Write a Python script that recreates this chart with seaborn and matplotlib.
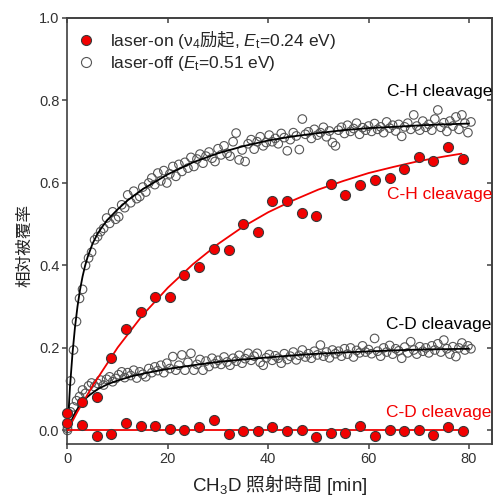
import numpy as np
import pandas as pd
import seaborn as sns
import matplotlib.pyplot as plt
from matplotlib.lines import Line2D
from matplotlib.ticker import FormatStrFormatter

##
# data

# laser-off (open circles), one point every 0.6 min
off_time = np.arange(0, 80.5, 0.6)
off_ch = [0.005, 0.120, 0.195, 0.264, 0.320, 0.342, 0.400, 0.418, 0.432, 0.462,
          0.470, 0.482, 0.490, 0.515, 0.502, 0.530, 0.512, 0.518, 0.547, 0.540,
          0.571, 0.552, 0.580, 0.562, 0.567, 0.590, 0.578, 0.600, 0.612, 0.596,
          0.624, 0.605, 0.630, 0.600, 0.622, 0.640, 0.616, 0.645, 0.628, 0.650,
          0.636, 0.662, 0.640, 0.658, 0.670, 0.648, 0.665, 0.675, 0.660, 0.652,
          0.683, 0.668, 0.690, 0.672, 0.665, 0.700, 0.721, 0.656, 0.680, 0.652,
          0.695, 0.705, 0.682, 0.700, 0.712, 0.690, 0.698, 0.716, 0.700, 0.708,
          0.695, 0.720, 0.710, 0.678, 0.705, 0.722, 0.714, 0.681, 0.755, 0.718,
          0.724, 0.708, 0.730, 0.716, 0.722, 0.735, 0.712, 0.726, 0.698, 0.690,
          0.728, 0.735, 0.720, 0.740, 0.725, 0.732, 0.745, 0.718, 0.734, 0.728,
          0.738, 0.725, 0.744, 0.730, 0.736, 0.722, 0.748, 0.733, 0.740, 0.726,
          0.742, 0.713, 0.736, 0.745, 0.730, 0.765, 0.738, 0.728, 0.750, 0.735,
          0.742, 0.728, 0.755, 0.777, 0.735, 0.746, 0.725, 0.750, 0.738, 0.760,
          0.730, 0.765, 0.745, 0.722, 0.748]
off_cd = [0.000, 0.045, 0.057, 0.072, 0.082, 0.098, 0.090, 0.108, 0.115, 0.106,
          0.114, 0.122, 0.110, 0.124, 0.130, 0.118, 0.126, 0.135, 0.142, 0.128,
          0.140, 0.133, 0.146, 0.127, 0.142, 0.136, 0.130, 0.150, 0.140, 0.154,
          0.145, 0.158, 0.140, 0.163, 0.150, 0.179, 0.146, 0.158, 0.183, 0.146,
          0.165, 0.187, 0.146, 0.160, 0.172, 0.146, 0.168, 0.155, 0.175, 0.162,
          0.170, 0.160, 0.178, 0.166, 0.158, 0.175, 0.168, 0.182, 0.163, 0.174,
          0.187, 0.170, 0.180, 0.187, 0.165, 0.158, 0.176, 0.184, 0.170, 0.181,
          0.175, 0.163, 0.186, 0.172, 0.180, 0.190, 0.171, 0.182, 0.195, 0.178,
          0.186, 0.175, 0.192, 0.183, 0.207, 0.180, 0.190, 0.176, 0.195, 0.186,
          0.192, 0.180, 0.198, 0.185, 0.200, 0.178, 0.194, 0.188, 0.205, 0.190,
          0.196, 0.186, 0.223, 0.192, 0.180, 0.200, 0.190, 0.206, 0.185, 0.198,
          0.193, 0.175, 0.202, 0.188, 0.215, 0.195, 0.185, 0.203, 0.192, 0.200,
          0.188, 0.205, 0.195, 0.210, 0.190, 0.219, 0.198, 0.185, 0.203, 0.179,
          0.200, 0.212, 0.195, 0.205, 0.198]

# laser-on (filled red circles)
on_time = [0, 2.9, 5.8, 8.7, 11.7, 14.6, 17.5, 20.4, 23.3, 26.3, 29.2, 32.1,
           35.0, 37.9, 40.8, 43.8, 46.7, 49.6, 52.5, 55.4, 58.3, 61.3, 64.2,
           67.1, 70.0, 72.9, 75.8, 78.8]
on_ch = [0.042, 0.069, 0.082, 0.175, 0.246, 0.288, 0.324, 0.324, 0.378, 0.397,
         0.440, 0.438, 0.501, 0.480, 0.557, 0.557, 0.528, 0.519, 0.598, 0.571,
         0.595, 0.606, 0.612, 0.633, 0.663, 0.654, 0.688, 0.657]
on_cd = [0.018, 0.014, -0.013, -0.009, 0.017, 0.011, 0.011, 0.003, 0.000, 0.008,
         0.025, -0.008, -0.001, -0.001, 0.008, -0.002, 0.001, -0.016, -0.007,
         -0.006, 0.010, -0.014, 0.002, -0.002, 0.002, -0.011, 0.008, -0.002]

# fitted curves
fit_off_ch_t = [0, 0.5, 1, 1.5, 2, 2.5, 3, 3.5, 4, 5, 6, 7, 8, 10, 12, 15, 20,
                25, 30, 35, 40, 45, 50, 55, 60, 65, 70, 75, 80]
fit_off_ch = [0, 0.106, 0.187, 0.251, 0.301, 0.341, 0.373, 0.399, 0.420, 0.453,
              0.477, 0.495, 0.511, 0.536, 0.558, 0.585, 0.621, 0.650, 0.672,
              0.689, 0.703, 0.713, 0.721, 0.728, 0.733, 0.736, 0.7395, 0.742, 0.744]
fit_off_cd_t = [0, 0.5, 1, 1.5, 2, 3, 4, 6, 8, 10, 13, 16, 20, 25, 30, 35, 40,
                45, 50, 55, 60, 65, 70, 75, 80]
fit_off_cd = [0, 0.016, 0.0295, 0.0415, 0.052, 0.069, 0.082, 0.100, 0.112,
              0.121, 0.132, 0.140, 0.149, 0.158, 0.166, 0.172, 0.177, 0.182,
              0.186, 0.189, 0.1915, 0.194, 0.196, 0.197, 0.198]
fit_on_ch_t = [0, 2, 5, 10, 15, 20, 25, 30, 35, 40, 45, 50, 55, 60, 65, 70, 75, 78.5]
fit_on_ch = [0, 0.0456, 0.108, 0.201, 0.280, 0.346, 0.403, 0.452, 0.494, 0.529,
             0.558, 0.584, 0.605, 0.624, 0.639, 0.653, 0.664, 0.671]
fit_on_cd_t = [0, 78.8]
fit_on_cd = [0.002, 0.002]

x_ticks = [0, 20, 40, 60, 80]
y_ticks = [0.0, 0.2, 0.4, 0.6, 0.8, 1.0]

##
# style

sns.set_style('ticks')
plt.rcParams['font.family'] = ['Liberation Sans', 'Noto Sans CJK JP']
plt.rcParams['mathtext.fontset'] = 'custom'
plt.rcParams['mathtext.rm'] = 'Noto Sans CJK JP'
plt.rcParams['mathtext.it'] = 'Liberation Sans:italic'
plt.rcParams['mathtext.sf'] = 'Liberation Sans'

red = '#f20000'
edge_red = '#3a3a3a'
edge_off = '#555555'
frame = '#404040'

off_df = pd.DataFrame({'time': off_time, 'ch': off_ch, 'cd': off_cd})
on_df = pd.DataFrame({'time': on_time, 'ch': on_ch, 'cd': on_cd})

fig, ax = plt.subplots(figsize=(4.94, 4.97), dpi=100)
fig.subplots_adjust(left=0.1356, right=0.996, bottom=0.1066, top=0.9638)

# laser-off points and fits
for col in ['ch', 'cd']:
    sns.scatterplot(data=off_df, x='time', y=col, ax=ax, marker='o', s=38,
                    facecolors='none', edgecolor=edge_off, linewidth=0.8,
                    clip_on=False, zorder=2)
sns.lineplot(x=fit_off_ch_t, y=fit_off_ch, ax=ax, color='black', linewidth=1.3, zorder=3)
sns.lineplot(x=fit_off_cd_t, y=fit_off_cd, ax=ax, color='black', linewidth=1.3, zorder=3)

# laser-on points and fits
sns.lineplot(x=fit_on_ch_t, y=fit_on_ch, ax=ax, color=red, linewidth=1.3, zorder=4)
sns.lineplot(x=fit_on_cd_t, y=fit_on_cd, ax=ax, color=red, linewidth=1.3, zorder=4)
for col in ['ch', 'cd']:
    sns.scatterplot(data=on_df, x='time', y=col, ax=ax, marker='o', s=52,
                    color=red, edgecolor=edge_red, linewidth=0.8,
                    clip_on=False, zorder=5)

# curve labels
ax.text(63.6, 0.821, 'C-H cleavage', color='black', fontsize=12.5, va='center')
ax.text(63.6, 0.571, 'C-H cleavage', color=red, fontsize=12.5, va='center')
ax.text(63.4, 0.256, 'C-D cleavage', color='black', fontsize=12.5, va='center')
ax.text(63.4, 0.044, 'C-D cleavage', color=red, fontsize=12.5, va='center')

# legend
h_on = Line2D([], [], ls='none', marker='o', ms=7.2, mfc=red, mec=edge_red, mew=0.8)
h_off = Line2D([], [], ls='none', marker='o', ms=7.2, mfc='none', mec=edge_off, mew=0.8)
ax.legend([h_on, h_off],
          [r'laser-on (ν$_\mathsf{4}\mathrm{励起}$, $E_\mathsf{t}$=0.24 eV)',
           r'laser-off ($E_\mathsf{t}$=0.51 eV)'],
          loc='upper left', bbox_to_anchor=(0.024, 0.975), frameon=False,
          fontsize=12.5, handlelength=1.0, handletextpad=0.88,
          labelspacing=0.2, borderpad=0, borderaxespad=0)

# axes
ax.set_xlim(-0.1, 84.6)
ax.set_ylim(-0.033, 1.0)
ax.set_xticks(x_ticks)
ax.set_yticks(y_ticks)
ax.yaxis.set_major_formatter(FormatStrFormatter('%.1f'))
ax.tick_params(direction='out', length=3.5, width=1.1, color=frame,
               labelsize=10.5, labelcolor='#333333', pad=2)
for side in ax.spines:
    ax.spines[side].set_visible(True)
    ax.spines[side].set_color(frame)
    ax.spines[side].set_linewidth(1.2)

top = ax.secondary_xaxis('top')
top.set_xticks(x_ticks)
top.tick_params(direction='in', length=3.5, width=1.1, color=frame, labeltop=False)
top.spines['top'].set_color(frame)
top.spines['top'].set_linewidth(1.2)
right = ax.secondary_yaxis('right')
right.set_yticks(y_ticks)
right.tick_params(direction='in', length=3.5, width=1.1, color=frame, labelright=False)
right.spines['right'].set_color(frame)
right.spines['right'].set_linewidth(1.2)

ax.set_xlabel(r'CH$_\mathsf{3}$D $\mathrm{照射時間}$ [min]', fontsize=13.5, color='#222222')
ax.set_ylabel('相対被覆率', fontsize=12, color='#222222')
ax.xaxis.set_label_coords(0.5, -0.066)
ax.yaxis.set_label_coords(-0.082, 0.467)

fig.savefig('out.png', dpi=100)
